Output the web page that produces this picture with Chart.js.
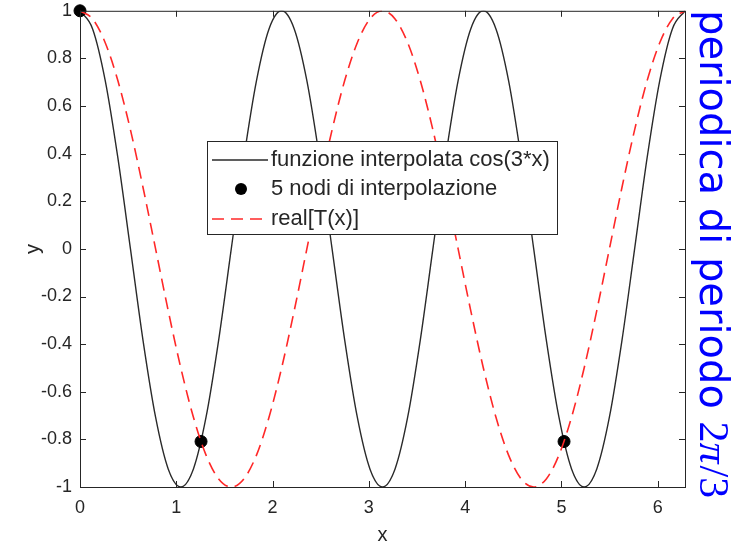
<!DOCTYPE html>
<html>
<head>
<meta charset="utf-8">
<script src="https://cdn.jsdelivr.net/npm/chart.js@4/dist/chart.umd.min.js"></script>
<style>
  html, body { margin: 0; padding: 0; background: #fff; }
  #wrap { width: 742px; height: 545px; }
</style>
</head>
<body>
<div id="wrap"><canvas id="trigChart" width="742" height="545"></canvas></div>
<script>
// sample points along x (0 .. 2*pi)
const xs = [0, 0.131, 0.262, 0.393, 0.524, 0.654, 0.785, 0.916, 1.047, 1.178, 1.309, 1.440,
  1.571, 1.702, 1.833, 1.963, 2.094, 2.225, 2.356, 2.487, 2.618, 2.749, 2.880, 3.011,
  3.142, 3.272, 3.403, 3.534, 3.665, 3.796, 3.927, 4.058, 4.189, 4.320, 4.451, 4.581,
  4.712, 4.843, 4.974, 5.105, 5.236, 5.367, 5.498, 5.629, 5.760, 5.890, 6.021, 6.152, 6.283];

// black curve: funzione interpolata cos(3*x)
const funcY = [1, 0.924, 0.707, 0.383, 0, -0.383, -0.707, -0.924, -1, -0.924, -0.707, -0.383,
  0, 0.383, 0.707, 0.924, 1, 0.924, 0.707, 0.383, 0, -0.383, -0.707, -0.924,
  -1, -0.924, -0.707, -0.383, 0, 0.383, 0.707, 0.924, 1, 0.924, 0.707, 0.383,
  0, -0.383, -0.707, -0.924, -1, -0.924, -0.707, -0.383, 0, 0.383, 0.707, 0.924, 1];

// red dashed curve: real[T(x)]
const realTY = [1, 0.966, 0.866, 0.707, 0.5, 0.259, 0, -0.259, -0.5, -0.707, -0.866, -0.966,
  -1, -0.966, -0.866, -0.707, -0.5, -0.259, 0, 0.259, 0.5, 0.707, 0.866, 0.966,
  1, 0.966, 0.866, 0.707, 0.5, 0.259, 0, -0.259, -0.5, -0.707, -0.866, -0.966,
  -1, -0.966, -0.866, -0.707, -0.5, -0.259, 0, 0.259, 0.5, 0.707, 0.866, 0.966, 1];

// visible interpolation nodes
const nodeX = [0, 1.257, 5.027];
const nodeY = [1, -0.809, -0.809];

const xTicks = [0, 1, 2, 3, 4, 5, 6];
const yTicks = [-1, -0.8, -0.6, -0.4, -0.2, 0, 0.2, 0.4, 0.6, 0.8, 1];
const legendLabels = ['funzione interpolata cos(3*x)', '5 nodi di interpolazione', 'real[T(x)]'];

const axisColor = '#262626';
const redDash = [12, 7];
const fontFam = '"Liberation Sans", Arial, sans-serif';

// box, inward ticks, axis titles
const boxPlugin = {
    id: 'boxPlugin',
    afterDatasetsDraw(chart) {
        const ctx = chart.ctx;
        const a = chart.chartArea;
        const sx = chart.scales.x, sy = chart.scales.y;
        ctx.save();
        ctx.strokeStyle = axisColor;
        ctx.lineWidth = 1;
        ctx.strokeRect(a.left + 0.5, a.top + 0.5, a.right - a.left, a.bottom - a.top);
        ctx.beginPath();
        xTicks.forEach(v => {
            const px = Math.round(sx.getPixelForValue(v)) + 0.5;
            ctx.moveTo(px, a.bottom); ctx.lineTo(px, a.bottom - 6);
            ctx.moveTo(px, a.top); ctx.lineTo(px, a.top + 6);
        });
        yTicks.forEach(v => {
            const py = Math.round(sy.getPixelForValue(v)) + 0.5;
            ctx.moveTo(a.left, py); ctx.lineTo(a.left + 6, py);
            ctx.moveTo(a.right, py); ctx.lineTo(a.right - 6, py);
        });
        ctx.stroke();

        ctx.fillStyle = axisColor;
        ctx.font = '20px ' + fontFam;
        ctx.textAlign = 'center';
        ctx.textBaseline = 'middle';
        ctx.fillText('x', (a.left + a.right) / 2, 535);
        ctx.translate(33, (a.top + a.bottom) / 2);
        ctx.rotate(-Math.PI / 2);
        ctx.fillText('y', 0, 0);
        ctx.restore();
    },
    afterDraw(chart) {
        const ctx = chart.ctx;
        ctx.save();
        // legend box
        const lx = 207, ly = 141, lw = 350, lh = 93;
        ctx.fillStyle = '#fff';
        ctx.fillRect(lx, ly, lw, lh);
        ctx.strokeStyle = axisColor;
        ctx.lineWidth = 1;
        ctx.strokeRect(lx + 0.5, ly + 0.5, lw, lh);
        const rows = [160, 189, 219];
        ctx.strokeStyle = '#2a2a2a';
        ctx.lineWidth = 1.4;
        ctx.beginPath(); ctx.moveTo(212, rows[0]); ctx.lineTo(268, rows[0]); ctx.stroke();
        ctx.fillStyle = '#000';
        ctx.beginPath(); ctx.arc(241, rows[1], 6, 0, Math.PI * 2); ctx.fill();
        ctx.strokeStyle = 'rgb(255,40,40)';
        ctx.lineWidth = 1.6;
        ctx.setLineDash(redDash);
        ctx.beginPath(); ctx.moveTo(212, rows[2]); ctx.lineTo(268, rows[2]); ctx.stroke();
        ctx.setLineDash([]);
        ctx.fillStyle = axisColor;
        ctx.font = '22px ' + fontFam;
        ctx.textAlign = 'left';
        ctx.textBaseline = 'middle';
        legendLabels.forEach((t, i) => ctx.fillText(t, 271, rows[i]));

        // blue note on the right, read top to bottom
        ctx.fillStyle = '#0000ff';
        ctx.translate(700, 10);
        ctx.rotate(Math.PI / 2);
        ctx.textAlign = 'left';
        ctx.textBaseline = 'alphabetic';
        ctx.font = '40px "DejaVu Sans", sans-serif';
        const s1 = 'periodica di periodo ';
        ctx.fillText(s1, 0, 0);
        let off = ctx.measureText(s1).width;
        ctx.font = '42px "Liberation Serif", serif';
        ctx.fillText('2', off, 0);
        off += ctx.measureText('2').width;
        ctx.font = 'italic 42px "Liberation Serif", serif';
        ctx.fillText('\u03c0', off, 0);
        off += ctx.measureText('\u03c0').width + 2;
        ctx.font = '42px "Liberation Serif", serif';
        ctx.fillText('/3', off, 0);
        ctx.restore();
    }
};

const tickFmt = v => Number(v.toFixed(1)).toString();

new Chart('trigChart', {
    type: 'scatter',
    data: {
        datasets: [{
            label: legendLabels[0],
            data: xs.map((x, i) => ({ x: x, y: funcY[i] })),
            showLine: true,
            borderColor: '#2a2a2a',
            borderWidth: 1.4,
            pointRadius: 0,
            cubicInterpolationMode: 'monotone',
            order: 3
        }, {
            label: legendLabels[1],
            data: nodeX.map((x, i) => ({ x: x, y: nodeY[i] })),
            showLine: false,
            pointRadius: 6,
            pointBackgroundColor: '#000',
            pointBorderColor: '#000',
            clip: false,
            order: 2
        }, {
            label: legendLabels[2],
            data: xs.map((x, i) => ({ x: x, y: realTY[i] })),
            showLine: true,
            borderColor: 'rgb(255,40,40)',
            borderWidth: 1.6,
            borderDash: redDash,
            pointRadius: 0,
            cubicInterpolationMode: 'monotone',
            order: 1
        }]
    },
    options: {
        responsive: false,
        animation: false,
        devicePixelRatio: 1,
        layout: { autoPadding: false, padding: { top: 2, right: 57, left: 0, bottom: 0 } },
        plugins: { legend: { display: false }, tooltip: { enabled: false } },
        scales: {
            x: {
                type: 'linear', min: 0, max: 6.2832,
                grid: { display: false }, border: { display: false },
                afterFit: s => { s.height = 58; },
                ticks: { stepSize: 1, includeBounds: false, padding: 2, color: axisColor,
                    font: { size: 18, family: fontFam }, maxRotation: 0, callback: tickFmt }
            },
            y: {
                type: 'linear', min: -1, max: 1,
                grid: { display: false }, border: { display: false },
                afterFit: s => { s.width = 80; },
                ticks: { stepSize: 0.2, padding: 0, color: axisColor,
                    font: { size: 18, family: fontFam }, callback: tickFmt }
            }
        }
    },
    plugins: [boxPlugin]
});
</script>
</body>
</html>
